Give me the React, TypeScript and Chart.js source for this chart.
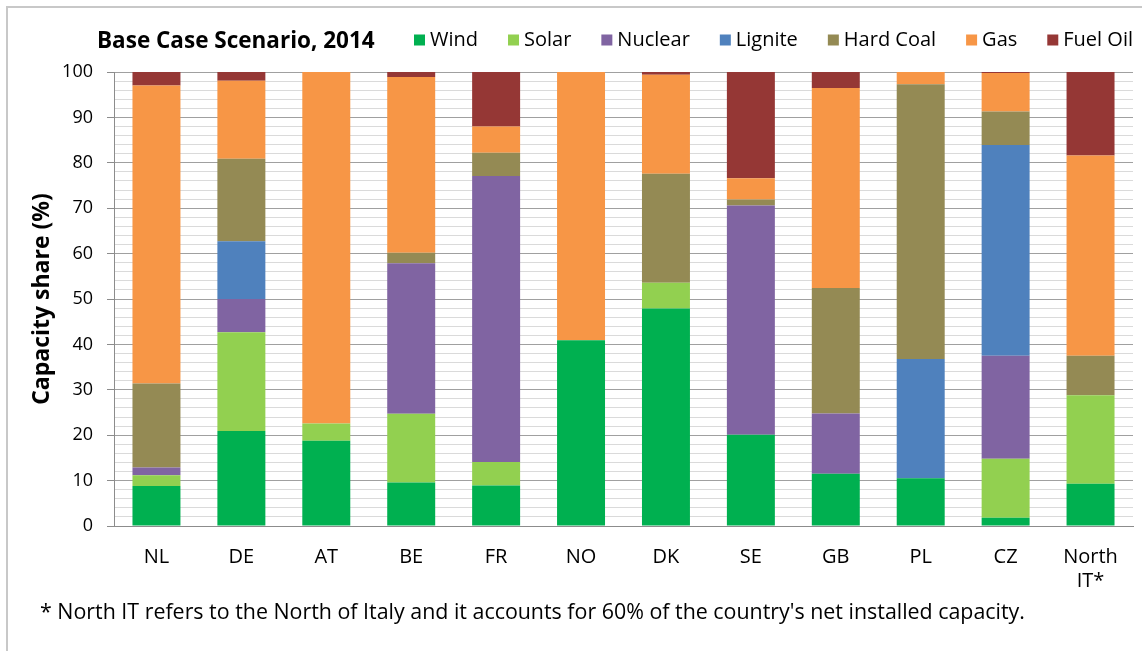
import React, { useEffect, useRef } from 'react';
import { Chart, registerables } from 'chart.js';

Chart.register(...registerables);

const categories: (string | string[])[] = ['NL', 'DE', 'AT', 'BE', 'FR', 'NO', 'DK', 'SE', 'GB', 'PL', 'CZ', ['North', 'IT*']];
const wind = [8.8, 20.9, 18.8, 9.6, 8.9, 40.9, 47.9, 20.1, 11.5, 10.5, 1.8, 9.3];
const solar = [2.4, 21.8, 3.8, 15.1, 5.2, 0, 5.7, 0, 0, 0, 13.0, 19.5];
const nuclear = [1.7, 7.3, 0, 33.2, 63.0, 0, 0, 50.5, 13.3, 0, 22.7, 0];
const lignite = [0, 12.7, 0, 0, 0, 0, 0, 0, 0, 26.3, 46.4, 0];
const hardCoal = [18.5, 18.2, 0, 2.3, 5.1, 0, 24.0, 1.3, 27.6, 60.5, 7.4, 8.7];
const gas = [65.6, 17.2, 77.4, 38.7, 5.8, 59.1, 21.8, 4.7, 44.1, 2.7, 8.5, 44.1];
const fuelOil = [3.0, 1.9, 0, 1.1, 12.0, 0, 0.6, 23.4, 3.5, 0, 0.2, 18.4];

const seriesNames = ['Wind', 'Solar', 'Nuclear', 'Lignite', 'Hard Coal', 'Gas', 'Fuel Oil'];
const seriesColors = ['#00B050', '#92D050', '#8064A2', '#4F81BD', '#948A54', '#F79646', '#953735'];
const seriesValues = [wind, solar, nuclear, lignite, hardCoal, gas, fuelOil];

const titleText = 'Base Case Scenario, 2014';
const yTitle = 'Capacity share (%)';
const footnote = "* North IT refers to the North of Italy and it accounts for 60% of the country's net installed capacity.";

const FONT = "'Open Sans', 'DejaVu Sans', sans-serif";

const decorPlugin = {
  id: 'decor',
  afterDraw(chart: any) {
    const ctx = chart.ctx as CanvasRenderingContext2D;
    ctx.save();
    // frame
    ctx.strokeStyle = '#c8c8c8';
    ctx.lineWidth = 2;
    ctx.beginPath();
    ctx.moveTo(7, 651);
    ctx.lineTo(7, 7);
    ctx.lineTo(1142, 7);
    ctx.stroke();

    // title
    ctx.fillStyle = '#000';
    ctx.font = `bold 22.5px ${FONT}`;
    ctx.textBaseline = 'middle';
    ctx.textAlign = 'left';
    ctx.fillText(titleText, 97, 42);

    // legend
    ctx.font = `20px ${FONT}`;
    const box = 11;
    const gapBox = 5;
    const gapItem = 30;
    const widths = seriesNames.map((n) => ctx.measureText(n).width);
    let total = 0;
    widths.forEach((w, i) => {
      total += box + gapBox + w + (i < widths.length - 1 ? gapItem : 0);
    });
    let x = 1133 - total;
    const ly = 40;
    chart.data.datasets.forEach((ds: any, i: number) => {
      ctx.fillStyle = ds.backgroundColor;
      ctx.fillRect(x, ly - box / 2, box, box);
      x += box + gapBox;
      ctx.fillStyle = '#000';
      ctx.fillText(ds.label, x, ly);
      x += widths[i] + gapItem;
    });

    // y title
    ctx.save();
    ctx.translate(42, (chart.chartArea.top + chart.chartArea.bottom) / 2);
    ctx.rotate(-Math.PI / 2);
    ctx.textAlign = 'center';
    ctx.font = `bold 23px ${FONT}`;
    ctx.fillStyle = '#000';
    ctx.fillText(yTitle, 0, 0);
    ctx.restore();

    // footnote
    ctx.font = `21.4px ${FONT}`;
    ctx.fillStyle = '#000';
    ctx.textAlign = 'left';
    ctx.fillText(footnote, 40, 613);
    ctx.restore();
  },
};

export default function App() {
  const ref = useRef<HTMLCanvasElement | null>(null);
  useEffect(() => {
    if (!ref.current) return;
    const chart = new Chart(ref.current, {
      type: 'bar',
      data: {
        labels: categories as any,
        datasets: seriesNames.map((name, i) => ({
          label: name,
          data: seriesValues[i],
          backgroundColor: seriesColors[i],
          borderWidth: 0,
          barPercentage: 0.565,
          categoryPercentage: 1,
        })),
      },
      options: {
        responsive: false,
        animation: false,
        devicePixelRatio: 1,
        layout: { padding: { left: 0, top: 72, right: 9, bottom: 0 } },
        plugins: {
          legend: { display: false },
          title: { display: false },
          tooltip: { enabled: false },
        },
        scales: {
          x: {
            stacked: true,
            grid: { display: false, drawTicks: false },
            border: { display: true, color: '#8c8c8c', width: 1 },
            ticks: {
              color: '#000',
              font: { family: FONT, size: 20 },
              padding: 19,
              maxRotation: 0,
              autoSkip: false,
            },
            afterFit(scale: any) {
              scale.height = 125;
            },
          },
          y: {
            stacked: true,
            min: 0,
            max: 100,
            grid: {
              color: (c: any) => (c.tick && c.tick.value % 10 === 0 ? '#a0a0a0' : '#dadada'),
              tickColor: (c: any) => (c.tick && c.tick.value % 10 === 0 ? '#8c8c8c' : 'rgba(0,0,0,0)'),
              tickLength: 7,
              lineWidth: 1,
            },
            border: { display: true, color: '#8c8c8c', width: 1 },
            ticks: {
              stepSize: 2,
              autoSkip: false,
              color: '#000',
              font: { family: FONT, size: 18 },
              padding: 14,
              callback: (v: any) => (Number(v) % 10 === 0 ? String(v) : ''),
            },
            afterFit(scale: any) {
              scale.width = 114;
            },
          },
        },
      },
      plugins: [decorPlugin],
    });
    return () => chart.destroy();
  }, []);
  return (
    <div style={{ position: 'absolute', left: 0, top: 0, width: 1142, height: 651, background: '#fff' }}>
      <canvas ref={ref} width={1142} height={651} style={{ display: 'block' }} />
    </div>
  );
}
